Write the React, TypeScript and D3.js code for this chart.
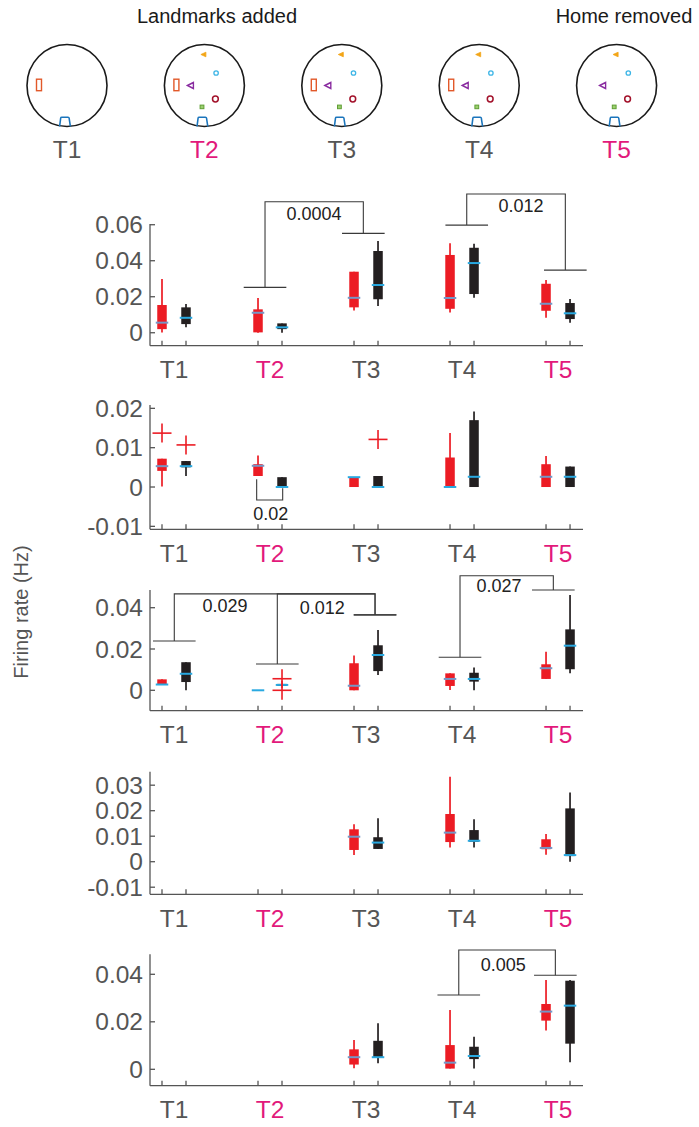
import React from "react";
import * as d3 from "d3";

// ---------- DATA ----------
const conditions = ["T1", "T2", "T3", "T4", "T5"];
const highlighted = ["T2", "T5"];
const topTitles = [
  { text: "Landmarks added", at: 1 },
  { text: "Home removed", at: 4 },
];
// which arena landmarks present per condition
const hasCue = [true, true, true, true, false]; // orange rectangle
const hasLandmarks = [false, true, true, true, true];

type Box = [number, number, number, number, number] | null; // [whiskerLow, q1, median, q3, whiskerHigh]

// Panel 1
const p1Red: Box[] = [
  [0.0002, 0.002, 0.0056, 0.0154, 0.0298],
  [0, 0.0002, 0.0111, 0.013, 0.0193],
  [0.0124, 0.0141, 0.0194, 0.0339, 0.0339],
  [0.0113, 0.0133, 0.0193, 0.0432, 0.0497],
  [0.0083, 0.0122, 0.0161, 0.0272, 0.0293],
];
const p1Black: Box[] = [
  [0.003, 0.0048, 0.0083, 0.0141, 0.016],
  [0, 0.002, 0.003, 0.0052, 0.0052],
  [0.0148, 0.0186, 0.0265, 0.0454, 0.0509],
  [0.0194, 0.0215, 0.0387, 0.0472, 0.0494],
  [0.0056, 0.0076, 0.0108, 0.0165, 0.0187],
];
// Panel 2
const p2Red: Box[] = [
  [0.0001, 0.0041, 0.0053, 0.0072, 0.0072],
  [0.0028, 0.0028, 0.0054, 0.0058, 0.008],
  [0, 0, 0.0025, 0.0025, 0.0025],
  [0, 0, 0, 0.0075, 0.0137],
  [0, 0, 0.0026, 0.0058, 0.0079],
];
const p2Black: Box[] = [
  [0.0028, 0.005, 0.0053, 0.0066, 0.0066],
  [0, 0, 0, 0.0025, 0.0025],
  [0, 0, 0, 0.0028, 0.0028],
  [0, 0, 0.0026, 0.017, 0.0192],
  [0, 0, 0.0026, 0.0052, 0.0052],
];
// Panel 3
const p3Red: Box[] = [
  [0.0028, 0.0028, 0.0028, 0.0053, 0.0053],
  [0, 0, 0, 0, 0],
  [0, 0, 0.0022, 0.0131, 0.0168],
  [0.0001, 0.0021, 0.0055, 0.0082, 0.0082],
  [0.0055, 0.0055, 0.0107, 0.0126, 0.0187],
];
const p3Black: Box[] = [
  [0, 0.004, 0.008, 0.0136, 0.0136],
  [0.0021, 0.0021, 0.0026, 0.0031, 0.0031],
  [0.0074, 0.0093, 0.0171, 0.0218, 0.0292],
  [0, 0.0042, 0.0055, 0.0085, 0.011],
  [0.0082, 0.0102, 0.0216, 0.0295, 0.0461],
];
// Panel 4
const p4Red: Box[] = [
  null,
  null,
  [0.0026, 0.0046, 0.0098, 0.0127, 0.0147],
  [0.0056, 0.0077, 0.0114, 0.0187, 0.0333],
  [0.0027, 0.0049, 0.0054, 0.0088, 0.0109],
];
const p4Black: Box[] = [
  null,
  null,
  [0.005, 0.005, 0.0075, 0.0096, 0.017],
  [0.0056, 0.0078, 0.0082, 0.0124, 0.0166],
  [0, 0.0022, 0.0026, 0.0209, 0.0271],
];
// Panel 5
const p5Red: Box[] = [
  null,
  null,
  [0.0004, 0.002, 0.0051, 0.0084, 0.0123],
  [0.0003, 0.0003, 0.0028, 0.0102, 0.025],
  [0.0163, 0.0205, 0.0243, 0.0275, 0.0376],
];
const p5Black: Box[] = [
  null,
  null,
  [0.0025, 0.005, 0.0051, 0.012, 0.0194],
  [0.0003, 0.0043, 0.0056, 0.0095, 0.0137],
  [0.003, 0.0108, 0.0268, 0.0373, 0.0376],
];

type Outlier = { group: number; side: -1 | 1; value: number };
const p2Outliers: Outlier[] = [
  { group: 0, side: -1, value: 0.0137 },
  { group: 0, side: 1, value: 0.0107 },
  { group: 2, side: 1, value: 0.0121 },
];
const p3Outliers: Outlier[] = [
  { group: 1, side: 1, value: 0.0056 },
  { group: 1, side: 1, value: 0.0 },
];

type Bracket = {
  left: number; right: number; leftBase: number; top: number; rightBase: number;
  caps: boolean; label: string; labelX: number; labelY: number;
};
const p1Brackets: Bracket[] = [
  { left: 1.948, right: 2.972, leftBase: 0.0252, top: 0.0728, rightBase: 0.0552, caps: true, label: "0.0004", labelX: 2.458, labelY: 0.0626 },
  { left: 4.049, right: 5.076, leftBase: 0.0598, top: 0.0771, rightBase: 0.0348, caps: true, label: "0.012", labelX: 4.615, labelY: 0.0671 },
];
const p2Brackets: Bracket[] = [
  { left: 1.861, right: 2.132, leftBase: 0.002, top: -0.0033, rightBase: -0.0003, caps: false, label: "0.02", labelX: 2.007, labelY: -0.0084 },
];
const p3Brackets: Bracket[] = [
  { left: 1.003, right: 3.094, leftBase: 0.0239, top: 0.0467, rightBase: 0.0365, caps: true, label: "0.029", labelX: 1.531, labelY: 0.0381 },
  { left: 2.076, right: 3.094, leftBase: 0.0127, top: 0.0467, rightBase: 0.0365, caps: true, label: "0.012", labelX: 2.545, labelY: 0.0369 },
  { left: 3.979, right: 4.951, leftBase: 0.016, top: 0.0555, rightBase: 0.0486, caps: true, label: "0.027", labelX: 4.385, labelY: 0.0475 },
];
const p5Brackets: Bracket[] = [
  { left: 3.966, right: 4.972, leftBase: 0.0313, top: 0.0502, rightBase: 0.0396, caps: true, label: "0.005", labelX: 4.43, labelY: 0.0415 },
];

const p1Ticks = [0, 0.02, 0.04, 0.06];
const p2Ticks = [-0.01, 0, 0.01, 0.02];
const p3Ticks = [0, 0.02, 0.04];
const p4Ticks = [-0.01, 0, 0.01, 0.02, 0.03];
const p5Ticks = [0, 0.02, 0.04];

const p1Ylim = [-0.0072, 0.0604];
const p2Ylim = [-0.01075, 0.02085];
const p3Ylim = [-0.00988, 0.04857];
const p4Ylim = [-0.01278, 0.03529];
const p5Ylim = [-0.0069, 0.04842];

const yLabel = "Firing rate (Hz)";

// ---------- LAYOUT / STYLE ----------
const W = 699, H = 1127;
const FONT = "'Liberation Sans', Arial, Helvetica, sans-serif";
const GRAY = "#555555";
const MAGENTA = "#e2197b";
const RED = "#ec1c24";
const BLACK = "#231f20";
const CYAN = "#29a9e1";
const RED_MED = "#7596c6";

const panels = [
  { red: p1Red, black: p1Black, outliers: [] as Outlier[], brackets: p1Brackets, ticks: p1Ticks, ylim: p1Ylim, px: [224, 345.7] },
  { red: p2Red, black: p2Black, outliers: p2Outliers, brackets: p2Brackets, ticks: p2Ticks, ylim: p2Ylim, px: [405, 529.3] },
  { red: p3Red, black: p3Black, outliers: p3Outliers, brackets: p3Brackets, ticks: p3Ticks, ylim: p3Ylim, px: [590, 710.7] },
  { red: p4Red, black: p4Black, outliers: [] as Outlier[], brackets: [] as Bracket[], ticks: p4Ticks, ylim: p4Ylim, px: [771.7, 894.3] },
  { red: p5Red, black: p5Black, outliers: [] as Outlier[], brackets: p5Brackets, ticks: p5Ticks, ylim: p5Ylim, px: [954.3, 1085.7] },
];

const x = d3.scaleLinear().domain([0.75, 5.26]).range([150, 583]);
const OFF = 0.125;
const BOX_W = 9.5;
const MED_W = 12.5;
const CAP = 0.222;

const fmt = (d: number) => (d === 0 ? "0" : String(+d.toFixed(3)));
const condColor = (c: string) => (highlighted.includes(c) ? MAGENTA : GRAY);

function BoxMark({ b, cx, y, color, isRed }: { b: Box; cx: number; y: d3.ScaleLinear<number, number>; color: string; isRed: boolean }) {
  if (!b) return null;
  const [wl, q1, med, q3, wh] = b;
  const inside = med > q1 && med < q3;
  const medColor = isRed && inside ? RED_MED : CYAN;
  return (
    <g>
      {wh > wl && <line x1={cx} x2={cx} y1={y(wl)} y2={y(wh)} stroke={color} strokeWidth={1.7} />}
      {q3 > q1 && <rect x={cx - BOX_W / 2} width={BOX_W} y={y(q3)} height={y(q1) - y(q3)} fill={color} />}
      <line x1={cx - MED_W / 2} x2={cx + MED_W / 2} y1={y(med)} y2={y(med)} stroke={medColor} strokeWidth={2} />
    </g>
  );
}

function Panel({ p }: { p: typeof panels[number] }) {
  const [top, bottom] = p.px;
  const y = d3.scaleLinear().domain(p.ylim).range([bottom, top]);
  const xl = x.range()[0];
  const xr = x.range()[1];
  const positions: number[] = [];
  conditions.forEach((_, i) => { positions.push(i + 1 - OFF, i + 1 + OFF); });
  return (
    <g>
      <line x1={xl} x2={xl} y1={top} y2={bottom} stroke={GRAY} strokeWidth={1.3} />
      <line x1={xl} x2={xr} y1={bottom} y2={bottom} stroke={GRAY} strokeWidth={1.3} />
      {p.ticks.map((t) => (
        <g key={t}>
          <line x1={xl} x2={xl + 5} y1={y(t)} y2={y(t)} stroke={GRAY} strokeWidth={1.3} />
          <text x={xl - 7} y={y(t)} dy="0.35em" textAnchor="end" fontSize={24.5} fill={GRAY} fontFamily={FONT}>{fmt(t)}</text>
        </g>
      ))}
      {positions.map((v, i) => (
        <line key={i} x1={x(v)} x2={x(v)} y1={bottom} y2={bottom - 5} stroke={GRAY} strokeWidth={1.3} />
      ))}
      {conditions.map((c, i) => (
        <text key={c} x={x(i + 1)} y={bottom + 32.6} textAnchor="middle" fontSize={24.5} fill={condColor(c)} fontFamily={FONT}>{c}</text>
      ))}
      {p.brackets.map((br, i) => {
        const pts: [number, number][] = [
          [x(br.left), y(br.leftBase)], [x(br.left), y(br.top)], [x(br.right), y(br.top)], [x(br.right), y(br.rightBase)],
        ];
        return (
          <g key={i}>
            <path d={d3.line()(pts) || ""} fill="none" stroke="#3a3a3a" strokeWidth={1.1} />
            {br.caps && (
              <>
                <line x1={x(br.left - CAP)} x2={x(br.left + CAP)} y1={y(br.leftBase)} y2={y(br.leftBase)} stroke="#3a3a3a" strokeWidth={1.1} />
                <line x1={x(br.right - CAP)} x2={x(br.right + CAP)} y1={y(br.rightBase)} y2={y(br.rightBase)} stroke="#3a3a3a" strokeWidth={1.1} />
              </>
            )}
            <text x={x(br.labelX)} y={y(br.labelY)} textAnchor="middle" fontSize={18} fill="#222" fontFamily={FONT}>{br.label}</text>
          </g>
        );
      })}
      {conditions.map((c, i) => (
        <g key={c}>
          <BoxMark b={p.red[i]} cx={x(i + 1 - OFF)} y={y} color={RED} isRed={true} />
          <BoxMark b={p.black[i]} cx={x(i + 1 + OFF)} y={y} color={BLACK} isRed={false} />
        </g>
      ))}
      {p.outliers.map((o, i) => {
        const cx = x(o.group + 1 + o.side * OFF);
        const cy = y(o.value);
        return (
          <g key={i} stroke={RED} strokeWidth={1.6}>
            <line x1={cx - 9.5} x2={cx + 9.5} y1={cy} y2={cy} />
            <line x1={cx} x2={cx} y1={cy - 9.5} y2={cy + 9.5} />
          </g>
        );
      })}
    </g>
  );
}

function Arena({ i }: { i: number }) {
  const cx = 67 + 137.4 * i;
  const cy = 85.5;
  return (
    <g>
      <ellipse cx={cx} cy={cy} rx={40} ry={41} fill="none" stroke="#1a1a1a" strokeWidth={1.6} />
      {hasCue[i] && (
        <rect x={cx - 30.5} y={cy - 6.3} width={5} height={11.5} fill="none" stroke="#e2592a" strokeWidth={1.4} />
      )}
      {hasLandmarks[i] && (
        <>
          <path d={`M${cx - 3.5},${cy - 31} L${cx + 1.5},${cy - 33.3} L${cx + 1.5},${cy - 28.7} Z`} fill="#f2a516" stroke="#f2a516" strokeWidth={0.8} />
          <circle cx={cx + 11.7} cy={cy - 12.5} r={2.2} fill="none" stroke="#3db5e6" strokeWidth={1.3} />
          <path d={`M${cx - 17},${cy} L${cx - 11},${cy - 3} L${cx - 11},${cy + 3} Z`} fill="none" stroke="#8a2ca0" strokeWidth={1.4} />
          <circle cx={cx + 11} cy={cy + 13.5} r={2.9} fill="none" stroke="#a3122b" strokeWidth={1.5} />
          <rect x={cx - 4.3} y={cy + 19.6} width={3.8} height={3.6} fill="#9bcf6e" stroke="#5f9e35" strokeWidth={1} />
        </>
      )}
      <path
        d={`M${cx - 7.4},${cy + 41} L${cx - 6.3},${cy + 32.5} Q${cx - 6.2},${cy + 31.7} ${cx - 5.2},${cy + 31.7} L${cx + 1},${cy + 31.7} Q${cx + 2},${cy + 31.7} ${cx + 2.1},${cy + 32.5} L${cx + 3.4},${cy + 41}`}
        fill="none" stroke="#1b75bc" strokeWidth={1.6}
      />
      <text x={cx} y={158} textAnchor="middle" fontSize={24.5} fill={condColor(conditions[i])} fontFamily={FONT}>{conditions[i]}</text>
    </g>
  );
}

export default function App() {
  return (
    <svg width={W} height={H} viewBox={`0 0 ${W} ${H}`} style={{ position: "absolute", left: 0, top: 0, background: "#fff" }}>
      <rect width={W} height={H} fill="#fff" />
      {topTitles.map((t) => (
        <text key={t.text} x={t.at === 1 ? 217 : 624} y={23} textAnchor="middle" fontSize={20} fill="#1a1a1a" fontFamily={FONT}>{t.text}</text>
      ))}
      {conditions.map((_, i) => <Arena key={i} i={i} />)}
      {panels.map((p, i) => <Panel key={i} p={p} />)}
      <text transform="translate(28,612) rotate(-90)" textAnchor="middle" fontSize={20} fill={GRAY} fontFamily={FONT}>{yLabel}</text>
    </svg>
  );
}
